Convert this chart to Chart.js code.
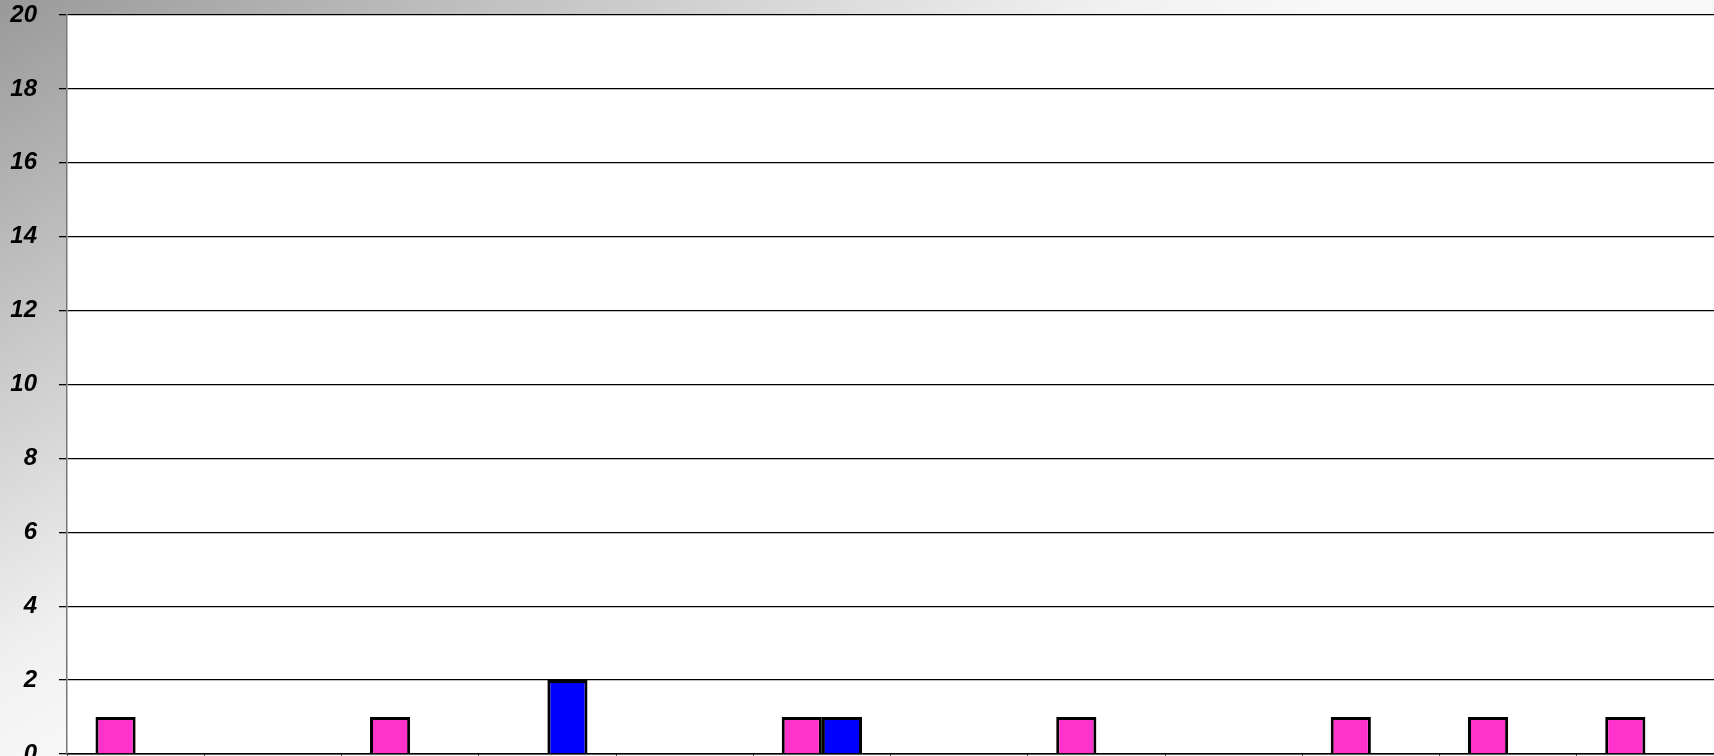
<!DOCTYPE html>
<html>
<head>
<meta charset="utf-8">
<script src="https://cdn.jsdelivr.net/npm/chart.js@4"></script>
<style>
html,body{margin:0;padding:0;overflow:hidden;background:#fff}
#wrap{width:1714px;height:780px;position:relative}
</style>
</head>
<body>
<div id="wrap"><canvas id="myGraph"></canvas></div>
<script>
const categories=['1','2','3','4','5','6','7','8','9','10','11','12']
const pinkValues=[1,null,1,null,null,1,null,1,null,1,1,1]
const blueValues=[null,null,null,2,null,1,null,null,null,null,null,null]
const yTicks=[0,2,4,6,8,10,12,14,16,18,20]

// grey corner fade behind the plot, like the old office chart
const backdrop={
    id:'backdrop',
    beforeDraw(chart){
        const c=chart.ctx
        const g=c.createLinearGradient(0,0,353,588)
        g.addColorStop(0,'#999999')
        g.addColorStop(0.44,'#c8c8c8')
        g.addColorStop(0.83,'#f0f0f0')
        g.addColorStop(1,'#f8f8f8')
        c.save()
        c.fillStyle=g
        c.fillRect(0,0,chart.width,chart.height)
        const a=chart.chartArea
        c.fillStyle='#ffffff'
        c.fillRect(a.left,a.top,a.right-a.left,a.bottom-a.top)
        c.restore()
    }
}

let myGraph=document.getElementById('myGraph').getContext('2d')
let chart=new Chart(myGraph,{
    type:'bar',
    data:{
        labels:categories,
        datasets:[{
            label:'Series 1',
            data:pinkValues,
            backgroundColor:'#ff33cc',
            borderColor:'#000000',
            borderWidth:3
        },{
            label:'Series 2',
            data:blueValues,
            backgroundColor:'#0000ff',
            borderColor:'#000000',
            borderWidth:3
        }]
    },
    plugins:[backdrop],
    options:{
        responsive:true,
        maintainAspectRatio:false,
        animation:false,
        devicePixelRatio:1,
        layout:{padding:{top:15,right:0,left:0,bottom:0}},
        plugins:{legend:{display:false},tooltip:{enabled:false}},
        datasets:{bar:{categoryPercentage:0.585,barPercentage:1}},
        scales:{
            x:{
                grid:{drawOnChartArea:false,color:'#444444',tickLength:6,offset:true},
                border:{color:'#000000',width:1.5},
                ticks:{display:false},
                afterFit(scale){
                    scale.height=26
                    scale.paddingLeft=0
                    scale.paddingRight=0
                }
            },
            y:{
                min:0,
                max:20,
                afterBuildTicks(scale){scale.ticks=yTicks.map(v=>({value:v}))},
                grid:{color:'#000000',lineWidth:1.3,tickLength:8},
                border:{color:'#777777',width:1.5},
                ticks:{
                    color:'#000000',
                    padding:22,
                    font:{family:'"Liberation Sans", Arial, sans-serif',size:24,weight:'bold',style:'italic'}
                },
                afterFit(scale){
                    scale.width=67
                    scale.paddingTop=0
                    scale.paddingBottom=0
                }
            }
        }
    }
})
</script>
</body>
</html>
